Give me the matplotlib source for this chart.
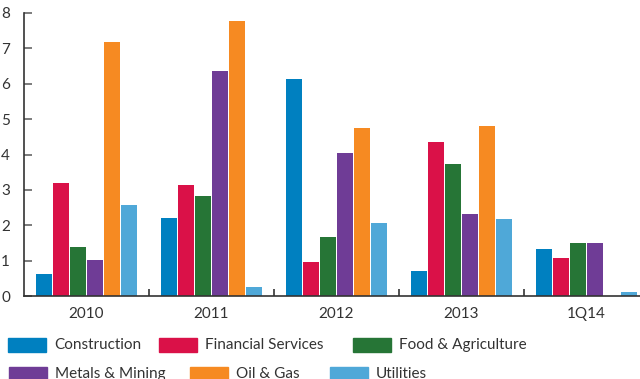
import numpy as np
import matplotlib
matplotlib.use("Agg")
import matplotlib.pyplot as plt
from matplotlib.patches import Rectangle
from matplotlib.ticker import FixedLocator, NullFormatter

plt.rcParams['font.family'] = ['Lato', 'DejaVu Sans']

periods = ["2010", "2011", "2012", "2013", "1Q14"]
sectors = ["Construction", "Financial Services", "Food & Agriculture",
           "Metals & Mining", "Oil & Gas", "Utilities"]
colors = ["#0080C0", "#DA1148", "#267536", "#6F3C96", "#F68A22", "#4FA8D8"]

construction = [0.62, 2.20, 6.13, 0.70, 1.33]
financial = [3.19, 3.14, 0.96, 4.35, 1.07]
food = [1.38, 2.82, 1.67, 3.73, 1.50]
metals = [1.02, 6.36, 4.04, 2.32, 1.50]
oil_gas = [7.18, 7.77, 4.75, 4.80, 0.0]
utilities = [2.57, 0.25, 2.06, 2.18, 0.11]
series = [construction, financial, food, metals, oil_gas, utilities]

W, H = 640, 379
fig = plt.figure(figsize=(W / 100, H / 100), dpi=100)
ax = fig.add_axes([24 / W, 83 / H, 625 / W, 283 / H])

x = np.arange(len(periods))
step = 0.136
for i, (vals, col) in enumerate(zip(series, colors)):
    ax.bar(x + (i - 2.5) * step, vals, width=0.128, color=col, zorder=2)

ax.set_xlim(-0.5, len(periods) - 0.5)
ax.set_ylim(0, 8)

for side in ("top", "right"):
    ax.spines[side].set_visible(False)
ax.spines["left"].set_color("#333333")
ax.spines["bottom"].set_color("#333333")
ax.spines["left"].set_linewidth(1.2)
ax.spines["bottom"].set_linewidth(1.2)

ax.set_yticks(range(0, 9))
ax.tick_params(axis="y", direction="in", length=6, width=1.2, color="#666666",
               labelsize=11, labelcolor="#333333", pad=10)

ax.set_xticks(x)
ax.set_xticklabels(periods)
ax.tick_params(axis="x", which="major", length=0, labelsize=11,
               labelcolor="#333333", pad=8)
ax.xaxis.set_minor_locator(FixedLocator(x[:-1] + 0.5))
ax.xaxis.set_minor_formatter(NullFormatter())
ax.tick_params(axis="x", which="minor", direction="in", length=5, width=1.2,
               color="#333333")

# legend laid out in two flowing rows under the axis
legend_pos = [(8, 345), (159, 345), (353, 345), (9, 374), (190, 374), (330, 374)]
for (px, py), name, col in zip(legend_pos, sectors, colors):
    fig.patches.append(Rectangle((px / W, 1 - (py + 7) / H), 38 / W, 14 / H,
                                 transform=fig.transFigure, color=col))
    fig.text((px + 46) / W, 1 - py / H, name, fontsize=11, color="#333333",
             va="center", ha="left")

fig.savefig("out.png", dpi=100)
